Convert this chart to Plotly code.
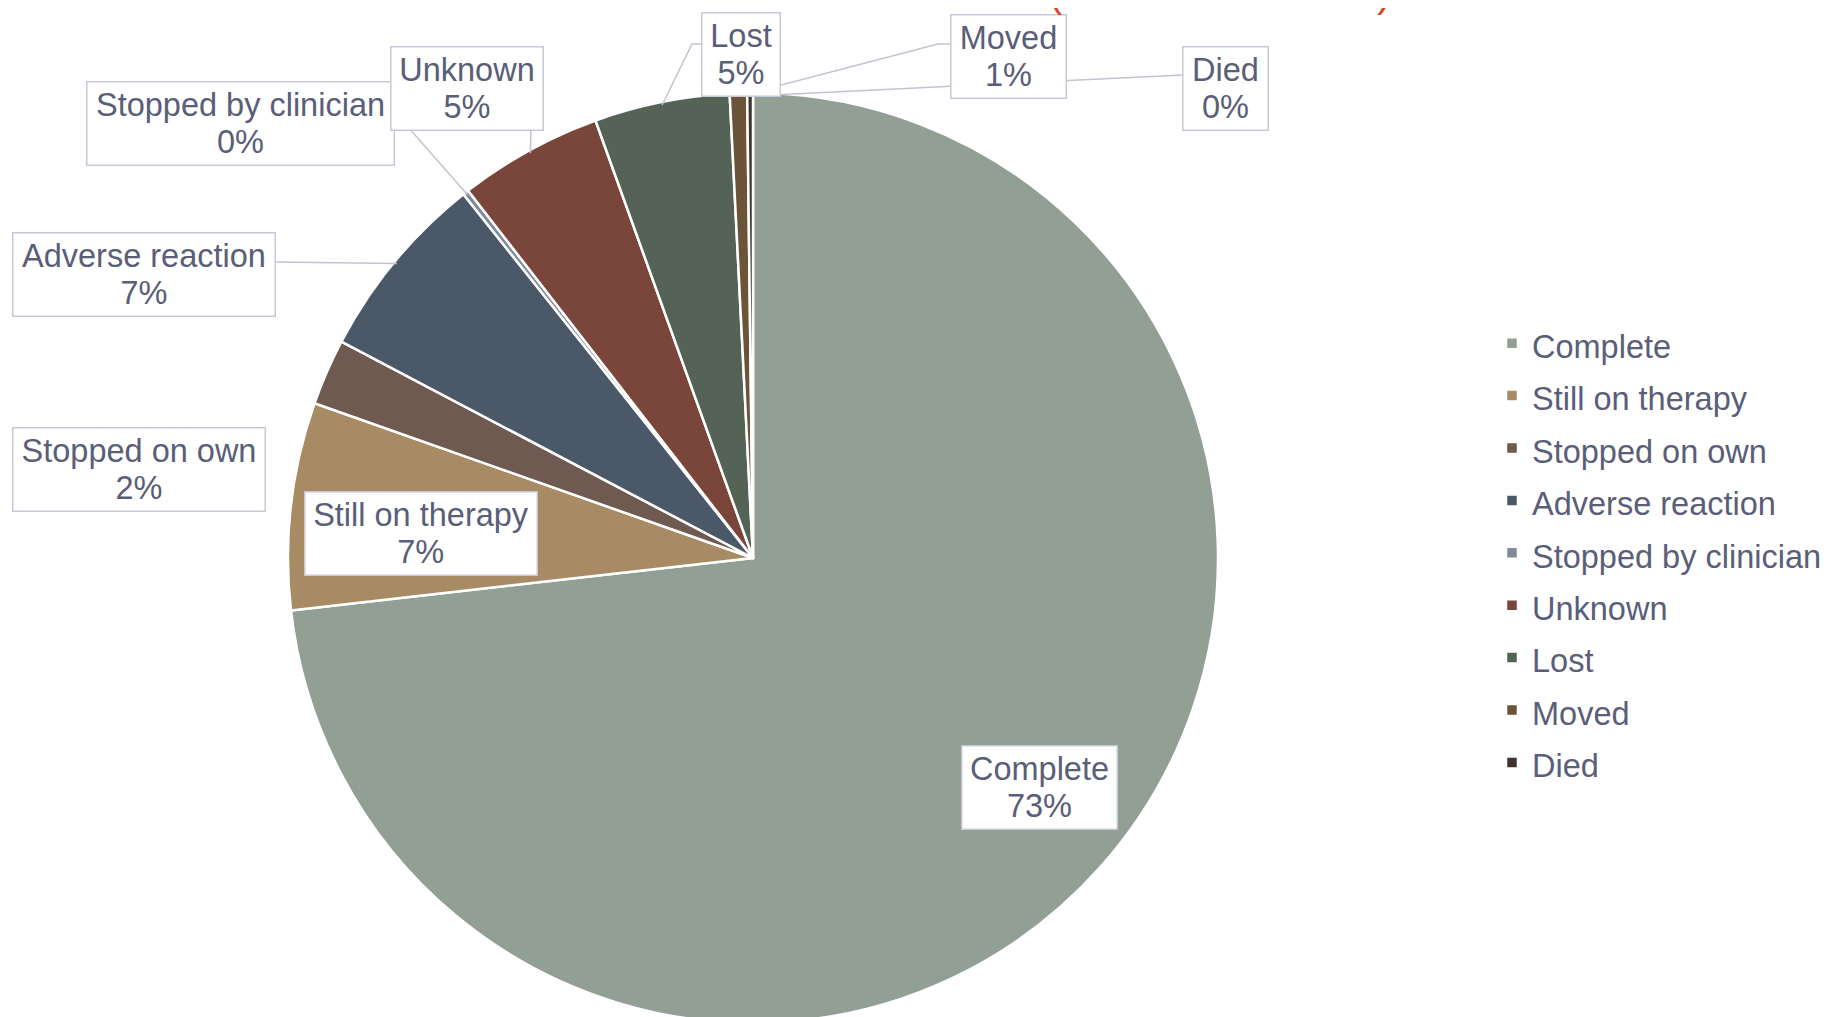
import math
import plotly.graph_objects as go

# ---------------- data ----------------
categories = ["Complete", "Still on therapy", "Stopped on own", "Adverse reaction",
              "Stopped by clinician", "Unknown", "Lost", "Moved", "Died"]
shares = [73.2, 7.2, 2.3, 6.6, 0.2, 5.0, 4.7, 0.6, 0.2]
colors = ["#919f95", "#a88b64", "#6e5a50", "#4b5868", "#7f8a9a",
          "#7a453a", "#556357", "#6b5438", "#3e3530"]

W, H = 1830, 1017
OFF = 8                               # page body margin
CX, CY, R = 753, 558, 462             # pie centre / radius in page px
TXT = "#5a5e78"
FONT = "Liberation Sans, Arial, sans-serif"
TSZ = 32.5

def px(x):
    return (x - OFF) / W

def py(y):
    return 1 - (y - OFF) / H

RD = R + 3
fig = go.Figure(go.Pie(
    labels=[f"<span style='font-size:{TSZ}px'>{c}</span>" for c in categories],
    values=shares,
    sort=False,
    direction="clockwise",
    rotation=0,
    marker=dict(colors=colors, line=dict(color="white", width=2.5)),
    textinfo="none",
    hoverinfo="skip",
    domain=dict(x=[px(CX - RD), px(CX + RD)], y=[max(0, py(CY + RD)), py(CY - RD)]),
))

# mid-angle anchor points on the pie edge, derived from the data
total = sum(shares)
anchors = []
cum = 0
for v in shares:
    a = math.radians(360 * (cum + v / 2) / total)
    anchors.append((CX + R * math.sin(a), CY - R * math.cos(a)))
    cum += v
pcts = [round(v / total * 100) for v in shares]

# label box layout: centre (page px), box width, leader path points ending at anchor
label_layout = {
    "Died":                 ((1225, 88), 85,  [(1183, 75)]),
    "Moved":                ((1008, 57), 115, [(951, 44), (938, 44)]),
    "Lost":                 ((741, 54),  78,  [(702, 44), (692, 44)]),
    "Stopped by clinician": ((240, 123), 307, [(393, 110)]),
    "Unknown":              ((467, 88),  152, [(531, 128)]),
    "Adverse reaction":     ((144, 274), 262, [(275, 262)]),
    "Stopped on own":       ((139, 470), 252, None),
    "Still on therapy":     ((421, 533), 232, None),
    "Complete":             ((1039, 787), 155, None),
}

shapes = []
annotations = []
order = ["Died", "Moved", "Lost", "Stopped by clinician", "Unknown",
         "Adverse reaction", "Stopped on own", "Still on therapy", "Complete"]
for name in order:
    i = categories.index(name)
    (bx, by), bw, lead = label_layout[name]
    if lead:
        pts = lead + [anchors[i]]
        path = "M " + " L ".join(f"{px(x):.5f},{py(y):.5f}" for x, y in pts)
        shapes.append(dict(type="path", xref="paper", yref="paper", path=path,
                           line=dict(color="#c3c3cf", width=1.5), layer="above"))
    annotations.append(dict(
        x=px(bx), y=py(by), xref="paper", yref="paper",
        xanchor="center", yanchor="middle",
        text=f"<span style='font-size:{TSZ}px'>{name}</span><br>"
             f"<span style='font-size:{TSZ}px'>{pcts[i]}%</span>",
        showarrow=False,
        font=dict(family=FONT, size=28, color=TXT),
        bgcolor="white", bordercolor="#c8c8d6", borderwidth=1.5, borderpad=2,
        width=bw - 5, height=78, align="center", valign="middle",
    ))

# clipped red title remnants at the very top
for tx, t in [(1056, "("), (1383, ")")]:
    annotations.append(dict(
        x=px(tx), y=1, xref="paper", yref="paper", xanchor="center", yanchor="bottom",
        yshift=-9, text=t, showarrow=False,
        font=dict(family=FONT, size=40, color="#d9472b"),
    ))

fig.update_layout(
    width=W, height=H,
    margin=dict(l=0, r=0, t=0, b=0),
    paper_bgcolor="white", plot_bgcolor="white",
    showlegend=True,
    legend=dict(
        x=px(1492), y=py(312), xanchor="left", yanchor="top",
        font=dict(family=FONT, size=38, color=TXT),
        bgcolor="rgba(0,0,0,0)", traceorder="normal",
    ),
    shapes=shapes,
    annotations=annotations,
)

fig.write_html("out.html")
